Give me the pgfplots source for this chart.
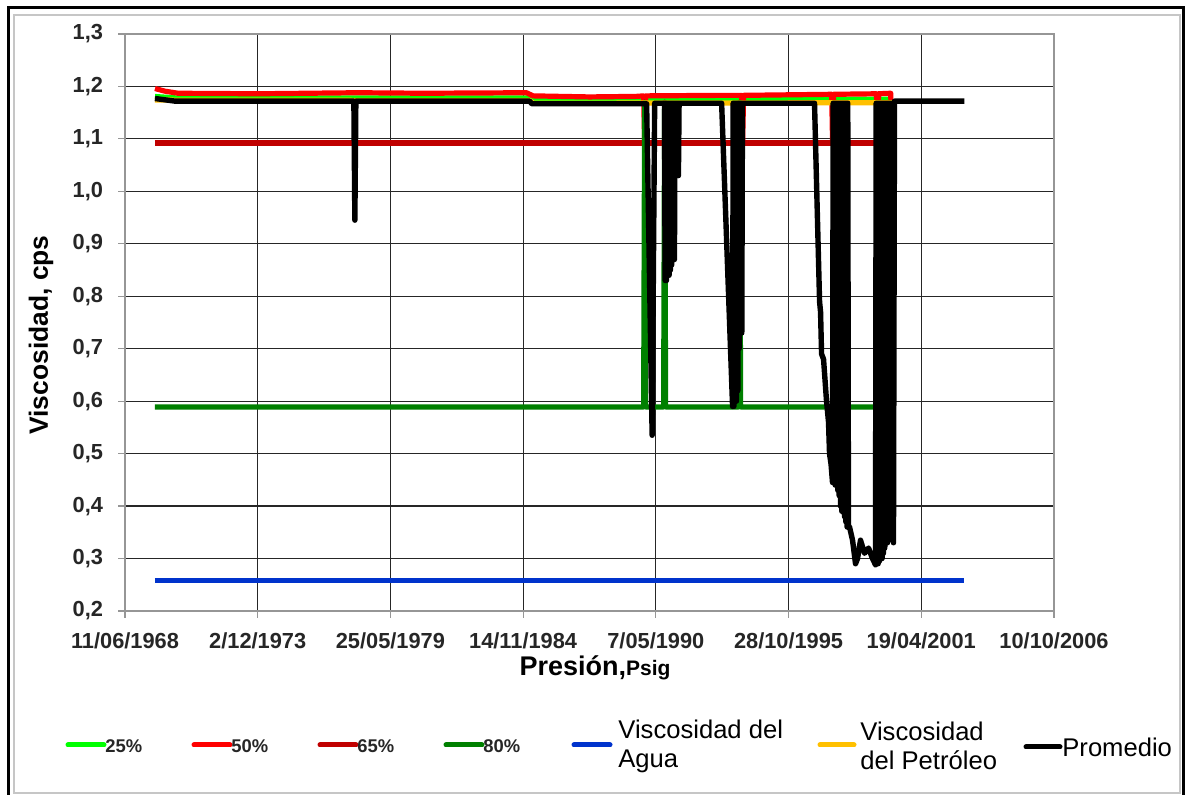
\documentclass[border=0pt]{standalone}
\usepackage{fontspec}
\setmainfont{Liberation Sans}
\usepackage{pgfplots}
\pgfplotsset{compat=1.18}
\definecolor{cLime}{RGB}{0,255,0}
\definecolor{cRed}{RGB}{255,0,0}
\definecolor{cDRed}{RGB}{192,0,0}
\definecolor{cDGreen}{RGB}{0,128,0}
\definecolor{cBlue}{RGB}{0,51,204}
\definecolor{cOrange}{RGB}{255,192,0}
\definecolor{cAxis}{RGB}{150,150,150}

\begin{document}
\begin{tikzpicture}
\useasboundingbox (0,0) rectangle (594.5pt,397.5pt);
\fill[white] (0,0) rectangle (594.5pt,397.5pt);
\draw[black, line width=1.5pt] (4pt,-3pt) -- (4pt,393.5pt) -- (591.5pt,393.5pt) -- (591.5pt,-3pt);
\draw[gray!45, line width=0.6pt] (7pt,1pt) rectangle (590pt,390pt);

\begin{axis}[
  at={(62.5pt,92pt)}, anchor=south west,
  scale only axis, width=464.5pt, height=288.5pt,
  xmin=25000, xmax=39000, ymin=0.2, ymax=1.3,
  scaled x ticks=false,
  xtick={25000,27000,29000,31000,33000,35000,37000,39000},
  xticklabels={11/06/1968,2/12/1973,25/05/1979,14/11/1984,7/05/1990,28/10/1995,19/04/2001,10/10/2006},
  ytick={0.2,0.3,0.4,0.5,0.6,0.7,0.8,0.9,1.0,1.1,1.2,1.3},
  yticklabel style={/pgf/number format/use comma, /pgf/number format/fixed, /pgf/number format/fixed zerofill, /pgf/number format/precision=1},
  /pgf/number format/assume math mode=true,
  ticklabel style={font=\bfseries\fontsize{10.9}{12}\selectfont, text=black!85},
  xticklabel style={yshift=-4pt},
  yticklabel style={xshift=-4pt},
  grid=major,
  major grid style={black!85, line width=0.6pt},
  axis line style={cAxis, line width=0.6pt},
  tick align=outside, major tick length=3.5pt,
  tick style={cAxis, line width=0.6pt},
  xtick pos=bottom, ytick pos=left,
  clip=false,
]
% 25%
\addplot[cLime, line width=2.5pt, line join=round] coordinates {
(25452,1.181) (25800,1.178) (31100,1.178) (31150,1.174) (36560,1.176)};
% 50%
\addplot[cRed, line width=2.6pt, line join=round] coordinates {
(25452,1.196) (25600,1.191) (25800,1.187) (27000,1.186) (28500,1.188) (29500,1.187)
(31050,1.188) (31150,1.182) (32000,1.180) (32700,1.181) (32816,1.182) (32831,1.092)
(32846,1.182) (34000,1.183) (34292,1.183) (34307,1.092) (34322,1.183) (35650,1.185)
(35663,1.092) (35678,1.185) (36325,1.186) (36340,1.092) (36355,1.186) (36540,1.187)
(36551,1.092)};
% 65%
\addplot[cDRed, line width=2.6pt] coordinates {(25452,1.092) (36551,1.092)};
% 80%
\addplot[cDGreen, line width=2.6pt, line join=round] coordinates {
(25452,0.589) (32816,0.589) (32831,1.17) (32846,0.589) (33117,0.589) (33132,1.17)
(33147,0.589) (34247,0.589) (34262,1.17) (34277,0.589) (36325,0.589) (36340,1.17)};
% Agua
\addplot[cBlue, line width=2.6pt] coordinates {(25452,0.258) (37650,0.258)};
% Petroleo
\addplot[cOrange, line width=2.6pt, line join=round] coordinates {
(25452,1.174) (31100,1.173) (31150,1.168) (36566,1.169)};
% Promedio
\addplot[black, line width=2.7pt, line join=round] coordinates {
(25452,1.177) (25753,1.172) (28449,1.172) (28464,0.945) (28479,1.172) (31099,1.172)
(31129,1.167) (32861,1.167) (32944,0.535) (32982,1.168)
(33130,1.168) (33140,0.83) (33150,1.168) (33160,0.83) (33170,1.168) (33180,0.84)
(33190,1.168) (33200,0.84) (33210,1.168) (33220,0.85) (33230,1.168) (33240,0.86)
(33250,1.168) (33260,0.87) (33270,1.168) (33280,0.87) (33290,1.168) (33300,1.03)
(33310,1.168) (33320,1.03) (33330,1.168) (33340,1.03) (33350,1.168)
(33991,1.168) (34051,0.96) (34156,0.59) (34165,1.168) (34175,0.59) (34185,1.168)
(34195,0.60) (34205,1.168) (34215,0.60) (34225,1.168) (34235,0.62) (34245,1.168)
(34255,0.70) (34265,1.168) (34275,0.73) (34285,1.168) (34295,0.73) (34305,1.168)
(35391,1.168) (35467,0.79) (35482,0.77) (35497,0.69) (35527,0.68)
(35572,0.60) (35602,0.56) (35617,0.50) (35640,0.48) (35662,0.445)
(35672,1.168) (35682,0.445) (35692,1.168) (35702,0.44) (35712,1.168) (35722,0.44)
(35732,1.168) (35742,0.43) (35752,1.168) (35762,0.42) (35772,1.168) (35782,0.40)
(35792,1.168) (35802,0.39) (35812,1.168) (35822,0.39) (35832,1.168) (35842,0.38)
(35852,1.168) (35862,0.37) (35872,1.168) (35882,0.36) (35892,1.168) (35902,0.36)
(35919,0.36) (35964,0.335) (36009,0.29) (36039,0.30) (36084,0.335) (36145,0.31)
(36205,0.32) (36265,0.30) (36310,0.288)
(36320,1.168) (36330,0.29) (36340,1.168) (36350,0.29) (36360,1.168) (36370,0.295)
(36380,1.168) (36390,0.30) (36400,1.168) (36410,0.30) (36420,1.168) (36430,0.31)
(36440,1.168) (36450,0.32) (36460,1.168) (36470,0.33) (36480,1.168) (36490,0.33)
(36500,1.168) (36510,0.335) (36520,1.168) (36530,0.34) (36540,1.168) (36550,0.34)
(36560,1.168) (36581,0.33) (36596,1.172) (37650,1.172)};
\end{axis}

% axis labels
\node[font=\bfseries, anchor=base] at (297.5pt,59.5pt) {\fontsize{13.5}{15}\selectfont Presión,\fontsize{10.5}{12}\selectfont Psig};
\node[font=\bfseries\fontsize{13.2}{15}\selectfont, rotate=90, anchor=center] at (20.5pt,230pt) {Viscosidad, cps};

% legend
\begin{scope}[line width=2.5pt, line cap=round]
\draw[cLime] (34pt,25pt) -- (52pt,25pt);
\draw[cRed] (97pt,25pt) -- (115pt,25pt);
\draw[cDRed] (160pt,25pt) -- (178pt,25pt);
\draw[cDGreen] (223pt,25pt) -- (241pt,25pt);
\draw[cBlue] (287pt,25pt) -- (305pt,25pt);
\draw[cOrange] (410pt,25pt) -- (427pt,25pt);
\draw[black] (513pt,24pt) -- (530pt,24pt);
\end{scope}
\begin{scope}[font=\bfseries\fontsize{9.2}{11}\selectfont, text=black!85, inner sep=0pt]
\node[anchor=west] at (52.5pt,24.5pt) {25\%};
\node[anchor=west] at (115.5pt,24.5pt) {50\%};
\node[anchor=west] at (178.5pt,24.5pt) {65\%};
\node[anchor=west] at (241.5pt,24.5pt) {80\%};
\end{scope}
\begin{scope}[font=\fontsize{12.8}{14.5}\selectfont, inner sep=0pt]
\node[anchor=west, align=left] at (309pt,24.5pt) {Viscosidad del\\Agua};
\node[anchor=west, align=left] at (430pt,24.5pt) {Viscosidad\\del Petróleo};
\node[anchor=west] at (531pt,24pt) {Promedio};
\end{scope}
\end{tikzpicture}
\end{document}
